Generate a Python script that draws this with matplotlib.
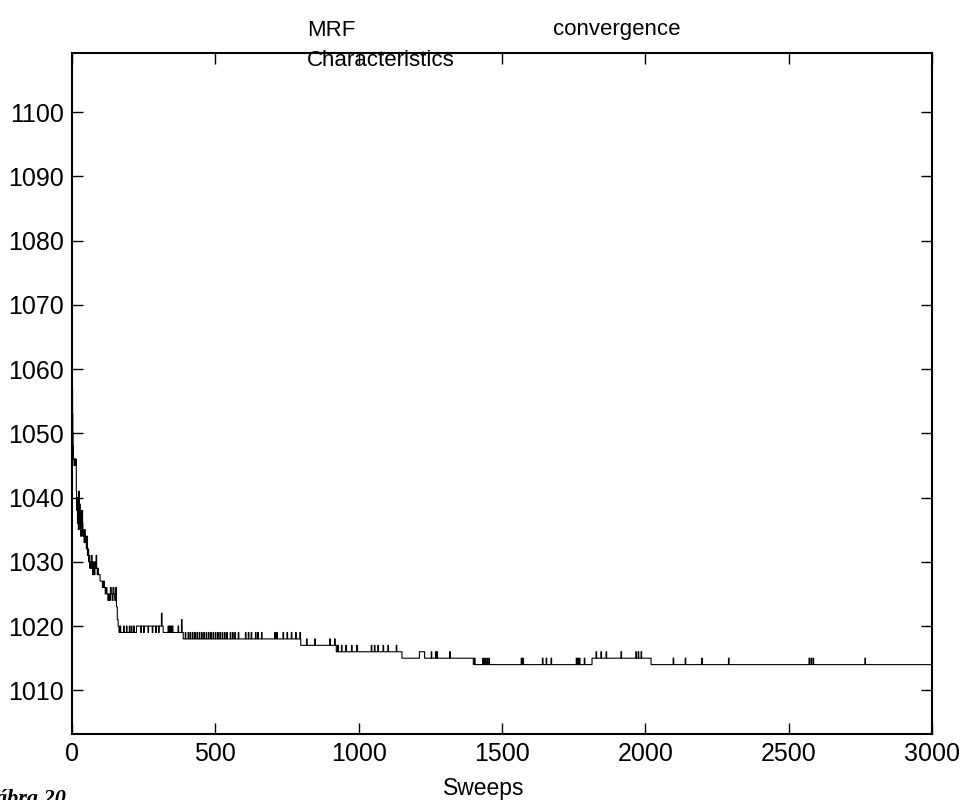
import numpy as np
import matplotlib
matplotlib.use("Agg")
import matplotlib.pyplot as plt

# ---- data ----
early_sweeps = [0, 1, 2, 3, 4, 5, 7, 9, 11, 13, 15, 16, 17, 18, 19, 20, 21, 22, 23, 24,
                25, 26, 27, 28, 29, 30, 31, 32, 33, 34, 35, 36, 37, 38, 40, 42, 44, 46,
                48, 50, 52, 54, 56, 58, 60, 62, 64, 66, 68, 70, 72, 74, 76, 78, 80, 82,
                84, 86, 88, 90, 92, 95, 98, 102, 106, 110, 113, 116, 119, 122, 125, 128,
                131, 134, 137, 140, 143, 146, 149, 152, 155, 158, 161, 164, 167]
early_energy = [1060, 1057, 1053, 1050, 1048, 1046, 1045, 1046, 1045, 1046, 1041, 1040,
                1038, 1040, 1036, 1039, 1037, 1035, 1039, 1041, 1038, 1036, 1039, 1035,
                1037, 1034, 1038, 1036, 1034, 1037, 1035, 1038, 1036, 1034, 1035, 1033,
                1035, 1034, 1033, 1032, 1034, 1031, 1032, 1030, 1031, 1029, 1030, 1029,
                1031, 1029, 1028, 1030, 1029, 1028, 1030, 1029, 1031, 1029, 1028, 1029,
                1028, 1028, 1027, 1027, 1026, 1027, 1026, 1025, 1026, 1025, 1024, 1025,
                1024, 1026, 1025, 1024, 1026, 1025, 1024, 1026, 1023, 1021, 1020, 1019,
                1020]

level_starts = [170, 225, 318, 388, 798, 922, 1151, 1400, 1814, 2020]
level_values = [1019, 1020, 1019, 1018, 1017, 1016, 1015, 1014, 1015, 1014]
last_sweep = 3000

spike_sweeps = [180, 190, 200, 207, 215,
                240, 250, 265, 280, 292, 302, 312,
                335, 340, 345, 350, 370, 382,
                395, 405, 412, 420, 428, 436, 444, 452, 460, 468, 476, 484, 492, 500,
                508, 516, 524, 532, 540, 552, 560, 568, 580, 605, 615, 625, 640, 648,
                661, 707, 714, 736, 750, 765, 780, 795,
                818, 847, 899, 916,
                927, 940, 955, 975, 993, 1044, 1055, 1067, 1085, 1102, 1131,
                1212, 1253, 1268, 1273, 1317,
                1404, 1433, 1440, 1447, 1454, 1567, 1573, 1641, 1654, 1671, 1759, 1765,
                1770, 1787,
                1828, 1845, 1863, 1915, 1967, 1975, 1985,
                2097, 2139, 2197, 2290, 2571, 2578, 2585, 2766]
spike_values = [1020, 1020, 1020, 1020, 1020,
                1019, 1019, 1019, 1019, 1019, 1019, 1022,
                1020, 1020, 1020, 1020, 1020, 1021,
                1019, 1019, 1019, 1019, 1019, 1019, 1019, 1019, 1019, 1019, 1019, 1019,
                1019, 1019, 1019, 1019, 1019, 1019, 1019, 1019, 1019, 1019, 1019, 1019,
                1019, 1019, 1019, 1019, 1019, 1019, 1019, 1019, 1019, 1019, 1019, 1019,
                1018, 1018, 1018, 1018,
                1017, 1017, 1017, 1017, 1017, 1017, 1017, 1017, 1017, 1017, 1017,
                1016, 1016, 1016, 1016, 1016,
                1015, 1015, 1015, 1015, 1015, 1015, 1015, 1015, 1015, 1015, 1015, 1015,
                1015, 1015,
                1016, 1016, 1016, 1016, 1016, 1016, 1016,
                1015, 1015, 1015, 1015, 1015, 1015, 1015, 1015]
spike_widths = [2] * len(spike_sweeps)
spike_widths[spike_sweeps.index(1212)] = 18
spike_widths[spike_sweeps.index(1317)] = 3

x_ticks = [0, 500, 1000, 1500, 2000, 2500, 3000]
y_ticks = [1010, 1020, 1030, 1040, 1050, 1060, 1070, 1080, 1090, 1100]

# ---- build the series (one value per sweep) ----
sweeps = np.arange(last_sweep + 1)
energy = np.zeros(last_sweep + 1)
for i, s in enumerate(early_sweeps):
    e = early_sweeps[i + 1] if i + 1 < len(early_sweeps) else level_starts[0]
    energy[s:e] = early_energy[i]
for i, s in enumerate(level_starts):
    e = level_starts[i + 1] if i + 1 < len(level_starts) else last_sweep + 1
    energy[s:e] = level_values[i]
for s, v, w in zip(spike_sweeps, spike_values, spike_widths):
    energy[s:s + w] = v

# ---- figure ----
plt.rcParams['font.family'] = ['Liberation Sans', 'DejaVu Sans']
fig = plt.figure(figsize=(9.63, 8.0), dpi=100)
ax = fig.add_axes([72 / 963, 1 - 734 / 800, (932 - 72) / 963, (734 - 53) / 800])

ax.plot(sweeps, energy, color='black', lw=0.8, drawstyle='steps-post')

ax.set_xlim(0, 3000)
ax.set_ylim(1003.2, 1109.2)
ax.set_xticks(x_ticks)
ax.set_yticks(y_ticks)
ax.tick_params(direction='in', length=8, width=1, top=True, right=True,
               labelsize=18, pad=6, colors='black')
for sp in ax.spines.values():
    sp.set_linewidth(1.5)

fig.text(307 / 963, 1 - 30 / 800, 'MRF', fontsize=16, ha='left', va='center')
fig.text(553 / 963, 1 - 30 / 800, 'convergence', fontsize=16, ha='left', va='center')
fig.text(307 / 963, 1 - 61 / 800, 'Characteristics', fontsize=16, ha='left', va='center')
fig.text(484 / 963, 1 - 788 / 800, 'Sweeps', fontsize=16.5, ha='center', va='center')
fig.text(-4 / 963, -4 / 800, 'ábra 20.', fontsize=16, ha='left', va='baseline',
         family='Liberation Serif', fontweight='bold', fontstyle='italic')

fig.savefig('out.png', dpi=100)
